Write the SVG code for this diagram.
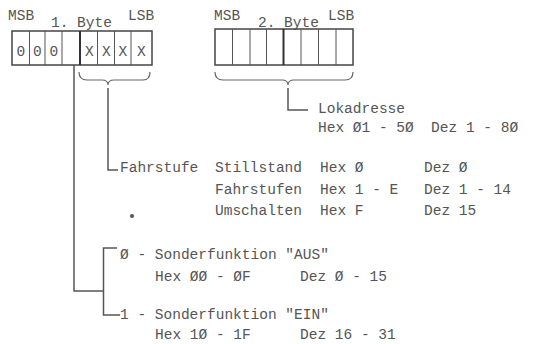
<svg xmlns="http://www.w3.org/2000/svg" width="536" height="344" viewBox="0 0 536 344">
<style>
text{font-family:"Liberation Mono","DejaVu Sans Mono",monospace;font-size:14.5px;fill:#555;white-space:pre}
.box{fill:none;stroke:#444;stroke-width:1.5}
.div{stroke:#555;stroke-width:1}
.mid{stroke:#333;stroke-width:2}
.ln{fill:none;stroke:#555;stroke-width:1.5}
.br{fill:none;stroke:#666;stroke-width:1.2}
</style>
<rect width="536" height="344" fill="#fff"/>
<g id="byte1">
<text x="8" y="19.5">MSB</text>
<text x="51" y="26.5">1. Byte</text>
<text x="128" y="19.5">LSB</text>
<rect class="box" x="12" y="31" width="140" height="34"/>
<line class="div" x1="29.5" y1="31" x2="29.5" y2="65"/>
<line class="div" x1="45" y1="31" x2="45" y2="65"/>
<line class="div" x1="62" y1="31" x2="62" y2="65"/>
<line class="mid" x1="80" y1="31" x2="80" y2="65"/>
<line class="div" x1="97.5" y1="31" x2="97.5" y2="65"/>
<line class="div" x1="114.5" y1="31" x2="114.5" y2="65"/>
<line class="div" x1="131" y1="31" x2="131" y2="65"/>
<text x="16.5" y="56">0</text>
<text x="33" y="56">0</text>
<text x="49.5" y="56">0</text>
<text x="85" y="56">X</text>
<text x="102" y="56">X</text>
<text x="118.5" y="56">X</text>
<text x="137" y="56">X</text>
</g>
<g id="byte2">
<text x="214" y="19.5">MSB</text>
<text x="258" y="26.5">2. Byte</text>
<text x="328" y="19.5">LSB</text>
<rect class="box" x="215" y="29" width="138" height="36"/>
<line class="div" x1="232.5" y1="29" x2="232.5" y2="65"/>
<line class="div" x1="250" y1="29" x2="250" y2="65"/>
<line class="div" x1="266.5" y1="29" x2="266.5" y2="65"/>
<line class="mid" x1="283.5" y1="29" x2="283.5" y2="65"/>
<line class="div" x1="301" y1="29" x2="301" y2="65"/>
<line class="div" x1="318.5" y1="29" x2="318.5" y2="65"/>
<line class="div" x1="336" y1="29" x2="336" y2="65"/>
</g>
<g id="lokadresse">
<text x="318" y="113">Lokadresse</text>
<text x="318" y="132">Hex Ø1 - 5Ø  Dez 1 - 8Ø</text>
</g>
<g id="fahrstufe">
<text x="120" y="172">Fahrstufe</text>
<text x="215" y="172">Stillstand</text>
<text x="320" y="172">Hex Ø</text>
<text x="424" y="172">Dez Ø</text>
<text x="215" y="194">Fahrstufen</text>
<text x="320" y="194">Hex 1 - E</text>
<text x="424" y="194">Dez 1 - 14</text>
<text x="215" y="215">Umschalten</text>
<text x="320" y="215">Hex F</text>
<text x="424" y="215">Dez 15</text>
<circle cx="132" cy="216" r="2" fill="#555"/>
</g>
<g id="sonder-aus">
<text x="120" y="259">Ø - Sonderfunktion "AUS"</text>
<text x="155" y="281">Hex ØØ - ØF</text>
<text x="300" y="281">Dez Ø - 15</text>
</g>
<g id="sonder-ein">
<text x="120" y="319">1 - Sonderfunktion "EIN"</text>
<text x="155" y="339">Hex 1Ø - 1F</text>
<text x="300" y="339">Dez 16 - 31</text>
</g>
<g id="connectors">
<path class="br" d="M79,72 Q79,80 87,80 L102,80 Q108,80 108,85 Q108,80 114,80 L143,80 Q150,80 150,72"/>
<path class="br" d="M215,72 Q215,80 223,80 L282,80 Q288,80 288,85 Q288,80 294,80 L345,80 Q353,80 353,72"/>
<path class="ln" d="M108,88 V170 H118"/>
<path class="ln" d="M288,88 V110 H308"/>
<path class="ln" d="M74,65 V291 H103.5"/>
<path class="ln" d="M117,248 H103.5 V315 H120"/>
</g>
</svg>
